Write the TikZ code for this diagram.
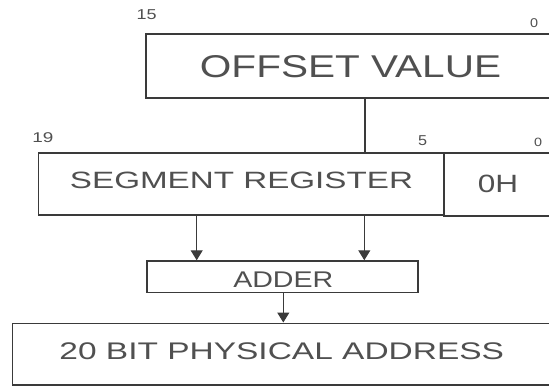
\documentclass[tikz,border=0pt]{standalone}
\usepackage{fontspec}
\setmainfont{Liberation Sans}
\usepackage{graphicx}
\usetikzlibrary{arrows.meta}
\definecolor{ink}{HTML}{3A3A3A}
\definecolor{txt}{HTML}{505050}
\newcommand{\fitt}[3]{\resizebox*{#1pt}{#2pt}{#3}}
\begin{document}
\begin{tikzpicture}[x=1pt,y=-1pt,
  regbox/.style={draw=ink,line width=1.5pt},
  word/.style={inner sep=0pt,text=txt},
  conn/.style={draw=ink,line width=1.1pt},
  arr/.style={conn,-{Triangle[width=12pt,length=10pt]}}]
\useasboundingbox (0,0) rectangle (549,386);
\clip (0,0) rectangle (549,386);
\fill[white] (0,0) rectangle (549,386);
% boxes
\draw[regbox] (146,34) rectangle (560,98);
\coordinate (offB) at (365,98);
\draw[regbox] (38.5,153) rectangle (444,215);
\coordinate (segT) at (365,153);
\coordinate (segB1) at (196.7,215);
\coordinate (segB2) at (364.3,215);
\draw[regbox] (444,153) rectangle (560,216);
\node[regbox,minimum width=271pt,minimum height=31.5pt,inner sep=0pt] (adder) at (282.5,276.75) {};
\node[regbox,minimum width=560pt,minimum height=61.5pt,inner sep=0pt,anchor=north west] (phys) at (11.5,322.5) {};
\coordinate (addOut) at (283.3,292.5);
% texts
\node[word] (toff) at (350.5,66.2) {\fitt{301}{22.3}{OFFSET VALUE}};
\node[word] (tseg) at (241.5,180) {\fitt{343}{16.7}{SEGMENT REGISTER}};
\node[word] (tzero) at (497.9,183.8) {\fitt{40.3}{17.7}{0H}};
\node[word] (tadd) at (283.3,279.5) {\fitt{100}{15.6}{ADDER}};
\node[word] (tphy) at (281.75,351.5) {\fitt{444.5}{17}{20 BIT PHYSICAL ADDRESS}};
% bit labels
\node[word] (b15) at (146.7,15) {\fitt{20}{10}{15}};
\node[word] (b0a) at (534,23) {\fitt{8}{9}{0}};
\node[word] (b19) at (42.8,137.7) {\fitt{21}{10}{19}};
\node[word] (b5) at (422.5,141) {\fitt{9}{10}{5}};
\node[word] (b0b) at (538,142) {\fitt{8}{8.5}{0}};
% connectors
\draw[conn] (offB) -- (segT);
\draw[arr] (segB1) -- (segB1 |- adder.north);
\draw[arr] (segB2) -- (segB2 |- adder.north);
\draw[arr] (addOut) -- (addOut |- phys.north);
\end{tikzpicture}
\end{document}
